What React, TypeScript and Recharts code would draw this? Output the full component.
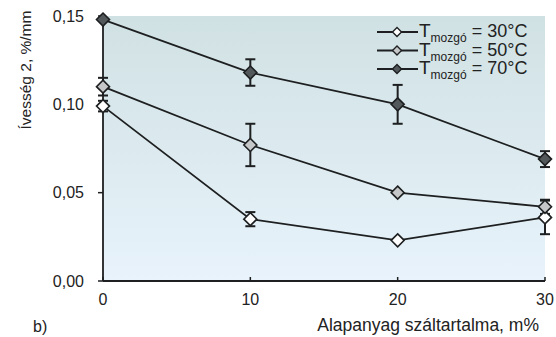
import { LineChart, Line, XAxis, YAxis, CartesianGrid, ErrorBar, Legend } from 'recharts';

// fibre content of the base material, m%
const fiberContent = [0, 10, 20, 30];

// curl per mm at three moving-roll temperatures
const curl30 = [0.099, 0.035, 0.023, 0.036];
const curl50 = [0.11, 0.077, 0.05, 0.042];
const curl70 = [0.148, 0.118, 0.1, 0.069];

// half-length of the scatter bars
const err30 = [0.003, 0.004, 0, 0.0095];
const err50 = [0.005, 0.012, 0, 0.004];
const err70 = [0, 0.0075, 0.011, 0.0045];

const xTicks = [0, 10, 20, 30];
const yTicks = [0, 0.05, 0.1, 0.15];

const series = [
    { key: 't30', err: 'e30', label: '30°C', fill: '#ffffff' },
    { key: 't50', err: 'e50', label: '50°C', fill: '#c4c6c7' },
    { key: 't70', err: 'e70', label: '70°C', fill: '#53595b' },
];

const rows = fiberContent.map((x, i) => ({
    x,
    t30: curl30[i],
    t50: curl50[i],
    t70: curl70[i],
    e30: err30[i],
    e50: err50[i],
    e70: err70[i],
}));

const FONT = '"Liberation Sans", Arial, sans-serif';
const INK = '#1d1f20';

const fmt = (v: number) => v.toFixed(2).replace('.', ',');

const diamond = (cx: number, cy: number, r: number) =>
    `${cx},${cy - r} ${cx + r},${cy} ${cx},${cy + r} ${cx - r},${cy}`;

const makeDot = (fill: string) => (props: any) => {
    const { cx, cy, index } = props;
    if (cx == null || cy == null) return <g key={index} />;
    return <polygon key={index} points={diamond(cx, cy, 6.5)} fill={fill} stroke={INK} strokeWidth={1.6} />;
};

const XTick = (props: any) => {
    const { x, y, payload } = props;
    return (
        <g>
            <line x1={x} x2={x} y1={y - 4} y2={y} stroke={INK} strokeWidth={1.5} />
            <text x={x} y={y + 24} textAnchor="middle" fontSize={16} fill="#222" fontFamily={FONT}>
                {payload.value}
            </text>
        </g>
    );
};

const LegendBox = () => (
    <svg width={180} height={72}>
        {series.map((s, i) => {
            const base = 19 + i * 18.5;
            const mid = base - 5;
            return (
                <g key={s.key}>
                    <line x1={5} x2={46} y1={mid} y2={mid} stroke={INK} strokeWidth={1.8} />
                    <polygon points={diamond(25, mid, 4.5)} fill={s.fill} stroke={INK} strokeWidth={1.4} />
                    <text x={47} y={base} fontFamily={FONT} fill="#222">
                        <tspan fontSize={19}>T</tspan>
                        <tspan fontSize={12} dy={5}>mozgó</tspan>
                        <tspan fontSize={18} dy={-5}> = {s.label}</tspan>
                    </text>
                </g>
            );
        })}
    </svg>
);

export default function App() {
    return (
        <div style={{ position: 'absolute', left: 0, top: 0, width: 556, height: 337, background: '#fff', fontFamily: FONT }}>
            <LineChart width={556} height={337} data={rows} margin={{ top: 16, right: 11, bottom: 0, left: 0 }}>
                <defs>
                    <linearGradient id="plotBg" x1="0" y1="0" x2="0" y2="1">
                        <stop offset="0%" stopColor="#d0e1e3" />
                        <stop offset="100%" stopColor="#e8f3fb" />
                    </linearGradient>
                </defs>
                <CartesianGrid horizontal={false} vertical={false} fill="url(#plotBg)" />
                <XAxis
                    dataKey="x"
                    type="number"
                    domain={[0, 30]}
                    ticks={xTicks}
                    height={56}
                    tickSize={0}
                    tickMargin={0}
                    tickLine={false}
                    axisLine={{ stroke: INK, strokeWidth: 1.8 }}
                    tick={<XTick />}
                    label={{
                        value: 'Alapanyag száltartalma, m%',
                        position: 'insideBottomRight',
                        offset: 6,
                        fontSize: 17.5,
                        fill: '#222',
                        fontFamily: FONT,
                    }}
                />
                <XAxis xAxisId="top" orientation="top" dataKey="x" type="number" domain={[0, 30]} height={0} tick={false} tickLine={false} axisLine={{ stroke: INK, strokeWidth: 1.8 }} />
                <YAxis
                    domain={[0, 0.15]}
                    ticks={yTicks}
                    width={103}
                    tickSize={5}
                    tickMargin={14}
                    tickFormatter={fmt}
                    axisLine={{ stroke: INK, strokeWidth: 1.8 }}
                    tickLine={{ stroke: INK, strokeWidth: 1.5 }}
                    tick={{ fontSize: 16, fill: '#222', fontFamily: FONT }}
                    label={{
                        value: 'Ívesség 2, %/mm',
                        content: () => (
                            <text x={26} y={70} transform="rotate(-90 26 70)" dy={5} textAnchor="middle" fontSize={15.5} fill="#222" fontFamily={FONT}>
                                Ívesség 2, %/mm
                            </text>
                        ),
                    }}
                />
                <YAxis yAxisId="right" orientation="right" domain={[0, 0.15]} width={0} tick={false} tickLine={false} axisLine={{ stroke: INK, strokeWidth: 1.8 }} />
                {series.map((s) => (
                    <Line
                        key={s.key}
                        dataKey={s.key}
                        stroke={INK}
                        strokeWidth={1.8}
                        dot={makeDot(s.fill)}
                        activeDot={false}
                        isAnimationActive={false}
                    >
                        <ErrorBar dataKey={s.err} direction="y" width={5} stroke={INK} strokeWidth={2} isAnimationActive={false} />
                    </Line>
                ))}
                <Legend
                    layout="vertical"
                    align="center"
                    verticalAlign="middle"
                    content={<LegendBox />}
                    wrapperStyle={{ position: 'absolute', top: 18, left: 372, width: 180, height: 72 }}
                />
            </LineChart>
            <div style={{ position: 'absolute', left: 33, top: 318, fontSize: 16, color: '#222' }}>b)</div>
        </div>
    );
}
